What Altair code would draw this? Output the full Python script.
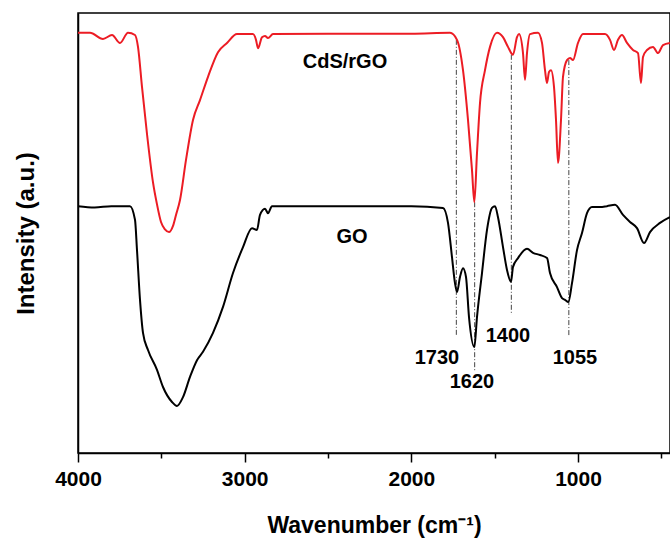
import altair as alt
import pandas as pd

# FTIR spectra (transmittance, arbitrary units)
cds_wn = [4000, 3928, 3850, 3796, 3748, 3700, 3658, 3640, 3616, 3586, 3550, 3526,
          3502, 3478, 3454, 3430, 3412, 3388, 3352, 3310, 3268, 3220, 3160, 3106, 3046,
          2950, 2932, 2920, 2896, 2878, 2860, 2830, 2500, 2000, 1768, 1726, 1690,
          1660, 1636, 1622, 1606, 1588, 1558, 1528, 1486, 1450, 1420, 1390, 1366,
          1354, 1330, 1318, 1306, 1288, 1240, 1216, 1198, 1186, 1174, 1162, 1144,
          1132, 1120, 1102, 1090, 1066, 1048, 1030, 1000, 970, 838, 808, 784, 760,
          736, 706, 670, 640, 622, 610, 586, 550, 520, 490, 448]
cds_int = [95.5, 95.5, 94.1, 95.0, 93.2, 95.5, 95.0, 92.3, 83.2, 72.5, 61.5, 56.5,
           52.5, 50.8, 50.2, 51.6, 54.1, 57.5, 66.6, 75.7, 80.2, 85.5, 91.1, 93.2, 95.2,
           95.2, 93.9, 92.0, 94.5, 94.8, 94.3, 95.2, 95.3, 95.3, 95.5, 93.9, 87.0,
           75.7, 64.3, 57.0, 68.2, 79.5, 87.0, 92.3, 95.5, 94.5, 92.3, 90.5, 94.5,
           95.2, 90.9, 84.8, 90.9, 95.2, 95.5, 93.2, 87.0, 84.1, 86.6, 87.0, 83.2,
           75.7, 65.9, 75.7, 85.5, 89.3, 89.8, 89.3, 93.2, 95.2, 95.2, 93.9, 91.6,
           93.9, 95.0, 93.2, 91.6, 90.9, 84.1, 90.0, 91.6, 92.3, 90.9, 92.7, 93.2]

go_wn = [4000, 3900, 3800, 3688, 3658, 3646, 3628, 3610, 3580, 3526, 3490, 3436,
         3406, 3370, 3328, 3286, 3250, 3190, 3130, 3070, 3010, 2956, 2926, 2908,
         2878, 2860, 2836, 2500, 2000, 1810, 1780, 1756, 1738, 1726, 1708, 1690,
         1672, 1654, 1622, 1606, 1576, 1546, 1516, 1498, 1480, 1450, 1426, 1402,
         1390, 1360, 1306, 1270, 1228, 1186, 1168, 1126, 1096, 1078, 1058, 1036,
         1006, 976, 946, 916, 868, 826, 778, 730, 688, 646, 604, 568, 508, 460, 448]
go_int = [56.1, 55.8, 56.1, 56.1, 53.0, 46.1, 34.8, 27.3, 23.4, 18.9, 15.0, 11.6,
          10.7, 12.7, 17.3, 21.1, 23.0, 27.3, 33.2, 40.9, 46.8, 51.1, 50.7, 54.1,
          55.5, 54.5, 56.1, 56.1, 56.1, 55.7, 52.3, 44.5, 38.6, 36.6, 40.0, 42.0,
          40.0, 30.9, 24.1, 30.9, 40.9, 50.7, 55.7, 56.1, 53.6, 46.8, 41.6, 38.9,
          42.3, 44.3, 46.4, 45.5, 45.0, 44.3, 40.9, 37.7, 35.2, 34.8, 34.3, 38.6,
          46.1, 50.0, 54.5, 55.9, 55.9, 56.1, 56.4, 54.1, 52.5, 51.1, 47.7, 50.2,
          52.3, 53.4, 53.6]

# Peak markers: position, top and bottom of the guide line, label position
peak_wn = [1730, 1620, 1400, 1055]
peak_top = [93.9, 57.0, 90.5, 89.3]
peak_bottom = [26.8, 18.4, 31.4, 26.8]
peak_label = ["1730", "1620", "1400", "1055"]
peak_label_wn = [1846, 1636, 1420, 1018]
peak_label_int = [21.6, 16.1, 26.6, 21.6]

series_names = ["CdS/rGO", "GO"]
series_colors = ["#ec1c24", "#000000"]
series_label_wn = [2398, 2356]
series_label_int = [88.9, 49.1]

FONT = "Liberation Sans"

spectra = pd.concat([
    pd.DataFrame({"wn": cds_wn, "intensity": cds_int, "sample": "CdS/rGO", "order": range(len(cds_wn))}),
    pd.DataFrame({"wn": go_wn, "intensity": go_int, "sample": "GO", "order": range(len(go_wn))}),
])
peaks = pd.DataFrame({"wn": peak_wn, "top": peak_top, "bottom": peak_bottom})
peak_text = pd.DataFrame({"wn": peak_label_wn, "intensity": peak_label_int, "label": peak_label})
sample_text = pd.DataFrame({"wn": series_label_wn, "intensity": series_label_int, "label": series_names})

x_scale = alt.Scale(domain=[448, 4000], reverse=True, nice=False, zero=False)
y_scale = alt.Scale(domain=[0, 100], nice=False, zero=False)

x_axis = alt.Axis(
    title="Wavenumber (cm⁻¹)",
    values=[4000, 3500, 3000, 2500, 2000, 1500, 1000, 500],
    labelExpr="datum.value % 1000 === 0 ? datum.label : ''",
    format="d",
    tickSize={"condition": {"test": "datum.value % 1000 === 0", "value": 9}, "value": 5},
    tickWidth=1.5,
    tickColor="black",
    domainColor="black",
    domainWidth=1.5,
    grid=False,
    labelFont=FONT,
    labelFontSize=21,
    labelFontWeight="bold",
    labelColor="black",
    labelPadding=6,
    labelFlush=False,
    titleFont=FONT,
    titleFontSize=23,
    titleFontWeight="bold",
    titleColor="black",
    titlePadding=25,
)
y_axis = alt.Axis(
    title="Intensity (a.u.)",
    ticks=False,
    labels=False,
    grid=False,
    domainColor="black",
    domainWidth=1.5,
    titleFont=FONT,
    titleFontSize=24,
    titleFontWeight="bold",
    titleColor="black",
    titlePadding=40,
)

lines = alt.Chart(spectra).mark_line(strokeWidth=2, clip=True, interpolate="monotone").encode(
    x=alt.X("wn:Q", scale=x_scale, axis=x_axis),
    y=alt.Y("intensity:Q", scale=y_scale, axis=y_axis),
    color=alt.Color("sample:N", scale=alt.Scale(domain=series_names, range=series_colors), legend=None),
    detail="sample:N",
    order="order:Q",
)

guides = alt.Chart(peaks).mark_rule(strokeWidth=1, color="#444444", strokeDash=[5, 2, 1, 2]).encode(
    x="wn:Q",
    y="top:Q",
    y2="bottom:Q",
)

peak_labels = alt.Chart(peak_text).mark_text(
    font=FONT, fontSize=20, fontWeight="bold", color="black", align="center", baseline="middle"
).encode(x="wn:Q", y="intensity:Q", text="label:N")

sample_labels = alt.Chart(sample_text).mark_text(
    font=FONT, fontSize=20, fontWeight="bold", color="black", align="center", baseline="middle"
).encode(x="wn:Q", y="intensity:Q", text="label:N")

chart = alt.layer(guides, lines, peak_labels, sample_labels).properties(
    width=592,
    height=440,
    autosize=alt.AutoSizeParams(type="none"),
    padding={"left": 78, "top": 13, "right": 0, "bottom": 88},
    background="white",
).configure_view(stroke="black", strokeWidth=1.5)

chart.save("out.html", embed_options={"renderer": "svg", "actions": False})
